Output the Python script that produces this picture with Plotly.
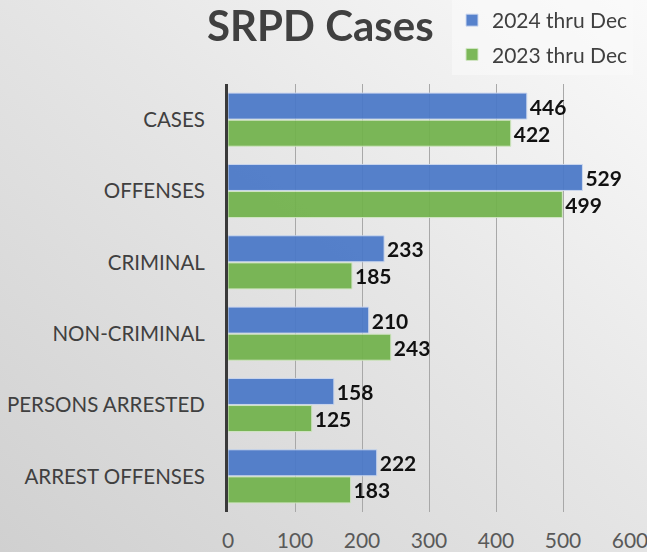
import plotly.graph_objects as go

# SRPD case counts, full year through December
categories = ["CASES", "OFFENSES", "CRIMINAL", "NON-CRIMINAL", "PERSONS ARRESTED", "ARREST OFFENSES"]
cases_2024 = [446, 529, 233, 210, 158, 222]
cases_2023 = [422, 499, 185, 243, 125, 183]
x_ticks = [0, 100, 200, 300, 400, 500, 600]

W, H = 647, 552
L, R, T, B = 228, 17, 84, 40
pw, ph = W - L - R, H - T - B

# soft diagonal grey background, like the slide it came from
bg_svg = (
    "data:image/svg+xml;utf8,"
    "<svg xmlns='http://www.w3.org/2000/svg' width='647' height='552'>"
    "<defs><linearGradient id='g' x1='0' y1='1' x2='1' y2='0'>"
    "<stop offset='0' stop-color='%23d0d0d0'/>"
    "<stop offset='0.55' stop-color='%23e6e6e6'/>"
    "<stop offset='1' stop-color='%23fafafa'/>"
    "</linearGradient></defs>"
    "<rect width='647' height='552' fill='url(%23g)'/></svg>"
)

fig = go.Figure()
fig.add_trace(go.Bar(
    name="2024 thru Dec", y=categories, x=cases_2024, orientation="h",
    legendgroup="a",
    marker=dict(color="#4a78c8", line=dict(color="#c9d6ee", width=1)),
    opacity=0.93,
    text=cases_2024, textposition="outside", cliponaxis=False,
    textfont=dict(family="Lato", size=21, color="#000000"),
    texttemplate="<b>%{text}</b>",
))
fig.add_trace(go.Bar(
    name="2023 thru Dec", y=categories, x=cases_2023, orientation="h",
    legendgroup="b",
    marker=dict(color="#72b24c", line=dict(color="#cfe5c0", width=1)),
    opacity=0.93,
    text=cases_2023, textposition="outside", cliponaxis=False,
    textfont=dict(family="Lato", size=21, color="#000000"),
    texttemplate="<b>%{text}</b>",
))

fig.update_layout(
    width=W, height=H,
    margin=dict(l=L, r=R, t=T, b=B, autoexpand=False),
    paper_bgcolor="#e4e4e4",
    plot_bgcolor="rgba(0,0,0,0)",
    barmode="group", bargap=0.24, bargroupgap=0.04,
    font=dict(family="Lato", color="#404040"),
    title=dict(
        text="<b>SRPD Cases</b>", x=207 / W, xanchor="left",
        y=1 - 26 / H, yanchor="middle",
        font=dict(family="Lato", size=42, color="#404040"),
    ),
    legend=dict(
        xref="container", yref="container",
        x=452 / W, y=1, xanchor="left", yanchor="top",
        bgcolor="rgba(250,250,250,0.6)", font=dict(size=21, color="#404040"),
        tracegroupgap=4, itemclick=False,
    ),
    images=[dict(
        source=bg_svg, xref="paper", yref="paper",
        x=-L / pw, y=1 + T / ph, sizex=W / pw, sizey=H / ph,
        xanchor="left", yanchor="top", sizing="stretch", layer="below",
    )],
    showlegend=True,
)
fig.update_xaxes(
    range=[0, 600], tickvals=x_ticks, showgrid=True, gridcolor="#a8a8a8", gridwidth=1,
    zeroline=False, showline=False, ticks="", automargin=False,
    ticklabelstandoff=14, ticklabeloverflow="allow",
    tickfont=dict(size=21, color="#595959"),
)
fig.update_yaxes(
    autorange="reversed", showgrid=False, zeroline=False,
    showline=True, linecolor="#3a3a3a", linewidth=3,
    ticks="", ticklabelstandoff=16, automargin=False,
    tickfont=dict(size=20.5, color="#404040"),
)

fig.write_html(
    "out.html",
    config={"displayModeBar": False},
    post_script="document.body.style.margin = '0';",
)
